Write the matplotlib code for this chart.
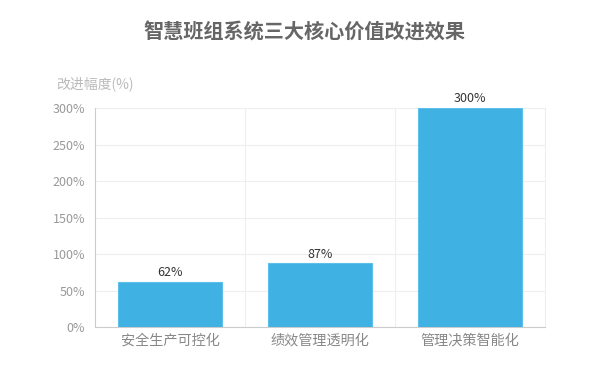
import matplotlib
matplotlib.use("Agg")
import matplotlib.pyplot as plt
import numpy as np

plt.rcParams['font.family'] = ['Noto Sans CJK SC', 'DejaVu Sans']

# data
categories = ["安全生产可控化", "绩效管理透明化", "管理决策智能化"]
values = [62, 87, 300]
yticks = [0, 50, 100, 150, 200, 250, 300]

fig = plt.figure(figsize=(5.96, 3.82), dpi=100)
ax = fig.add_axes([95 / 596, 1 - 327 / 382, 450 / 596, 219 / 382])

x = np.arange(len(categories))
ax.bar(x, values, width=0.69, color="#3fb1e3", edgecolor="#5cc0ea",
       linewidth=0.8, zorder=3)
for xi, v in zip(x, values):
    ax.text(xi, v + 4, "%d%%" % v, ha="center", va="bottom",
            fontsize=9, color="#333333", zorder=4)

ax.set_xlim(-0.5, len(categories) - 0.5)
ax.set_ylim(0, 300)
ax.set_yticks(yticks)
ax.set_yticklabels(["%d%%" % t for t in yticks])
ax.set_xticks(x)
ax.set_xticklabels(categories)

# grid: horizontal lines and vertical category separators
for t in yticks[1:]:
    ax.axhline(t, color="#eeeeee", linewidth=0.8, zorder=1)
for b in np.arange(0.5, len(categories) + 0.5, 1.0):
    ax.axvline(b, color="#eeeeee", linewidth=0.8, zorder=1, clip_on=False)

for side in ["top", "right"]:
    ax.spines[side].set_visible(False)
ax.spines["left"].set_color("#cccccc")
ax.spines["bottom"].set_color("#cccccc")
ax.tick_params(axis="both", length=0, colors="#999999")
ax.tick_params(axis="y", labelsize=9, pad=7)
ax.tick_params(axis="x", labelsize=10.2, pad=5, colors="#888888")

fig.text(56 / 596, 1 - 84 / 382, "改进幅度(%)", fontsize=10, color="#bbbbbb",
         ha="left", va="center")
fig.text(0.51, 1 - 32 / 382, "智慧班组系统三大核心价值改进效果", fontsize=14.5,
         fontweight="bold", color="#666666", ha="center", va="center")

fig.savefig("out.png", dpi=100)
